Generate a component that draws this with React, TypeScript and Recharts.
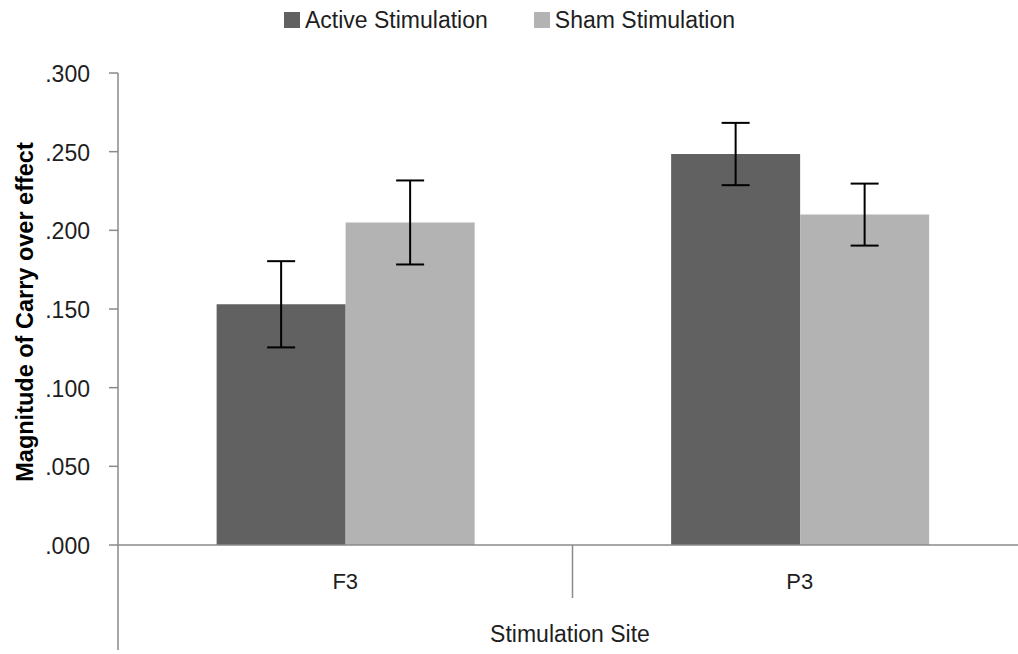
import React from 'react';
import { BarChart, Bar, XAxis, YAxis, ErrorBar, Legend } from 'recharts';

const sites = ['F3', 'P3'];
const activeMeans = [0.153, 0.2485];
const activeErrors = [0.0274, 0.0198];
const shamMeans = [0.205, 0.21];
const shamErrors = [0.0267, 0.0197];
const yTicks = [0, 0.05, 0.1, 0.15, 0.2, 0.25, 0.3];
const seriesNames = ['Active Stimulation', 'Sham Stimulation'];
const seriesColors = ['#616161', '#b3b3b3'];
const yAxisTitle = 'Magnitude of Carry over effect';
const xAxisTitle = 'Stimulation Site';

const data = sites.map((site, i) => ({
  site,
  active: activeMeans[i],
  activeErr: activeErrors[i],
  sham: shamMeans[i],
  shamErr: shamErrors[i],
}));

const FONT = '"Liberation Sans", Arial, sans-serif';
const TEXT = '#1e1e1e';
const AXIS = '#8a8a8a';
const Y_TICK_SIZE = 9;
const Y_TICK_MARGIN = 19;

const fmt = (v: number) => v.toFixed(3).replace(/^0/, '');

const YTick = (props: any) => {
  const { x, y, payload } = props;
  const axisX = x + Y_TICK_SIZE + Y_TICK_MARGIN;
  return (
    <g>
      <text x={x} y={y + 1} textAnchor="end" dominantBaseline="central" fontFamily={FONT} fontSize={23} fill={TEXT}>
        {fmt(payload.value)}
      </text>
      {payload.value === 0 && (
        <line x1={axisX} x2={axisX} y1={y} y2={y + 105} stroke={AXIS} strokeWidth={1.5} />
      )}
    </g>
  );
};

const XTick = (props: any) => {
  const { x, y, payload, index, visibleTicksCount } = props;
  const half = payload.offset ?? 0;
  return (
    <g>
      <text x={x} y={y + 44} textAnchor="middle" fontFamily={FONT} fontSize={22} fill={TEXT}>
        {payload.value}
      </text>
      {index < visibleTicksCount - 1 && (
        <line x1={x + half} x2={x + half} y1={y} y2={y + 53} stroke={AXIS} strokeWidth={1.5} />
      )}
    </g>
  );
};

const YTitle = (props: any) => {
  const vb = props.viewBox || {};
  const cy = (vb.y ?? 73) + (vb.height ?? 472) / 2 + 3;
  const cx = 25;
  return (
    <text
      x={cx}
      y={cy}
      transform={`rotate(-90 ${cx} ${cy})`}
      textAnchor="middle"
      dominantBaseline="central"
      fontFamily={FONT}
      fontWeight="bold"
      fontSize={23.5}
      fill="#000"
    >
      {yAxisTitle}
    </text>
  );
};

const XTitle = (props: any) => {
  const vb = props.viewBox || {};
  const cx = 570;
  const cy = (vb.y ?? 545) + 97;
  return (
    <text x={cx} y={cy} textAnchor="middle" fontFamily={FONT} fontSize={23} fill={TEXT}>
      {xAxisTitle}
    </text>
  );
};

const LegendContent = (props: any) => {
  const items = props.payload || [];
  return (
    <div style={{ height: 40, display: 'flex', alignItems: 'center', paddingLeft: 284, boxSizing: 'border-box' }}>
      {items.map((it: any, i: number) => (
        <div key={i} style={{ display: 'flex', alignItems: 'center', marginLeft: i === 0 ? 0 : 46 }}>
          <div style={{ width: 16, height: 16, background: it.color, marginRight: 5 }} />
          <span style={{ fontFamily: FONT, fontSize: 23, color: TEXT, lineHeight: '24px' }}>{it.value}</span>
        </div>
      ))}
    </div>
  );
};

export default function App() {
  return (
    <div style={{ position: 'absolute', left: 0, top: 0, width: 1018, height: 654, overflow: 'hidden', background: '#fff' }}>
      <BarChart
        width={1027}
        height={654}
        data={data}
        margin={{ top: 33, right: 0, bottom: 9, left: 0 }}
        barCategoryGap="21.7%"
        barGap={0}
      >
        <Legend
          verticalAlign="top"
          align="left"
          content={<LegendContent />}
          wrapperStyle={{ top: 0, left: 0, width: 1018, height: 40 }}
        />
        <XAxis
          dataKey="site"
          height={100}
          tickSize={0}
          tickMargin={0}
          tickLine={false}
          axisLine={{ stroke: AXIS, strokeWidth: 1.5 }}
          tick={<XTick />}
          label={<XTitle />}
          interval={0}
        />
        <YAxis
          width={118}
          domain={[0, 0.3]}
          ticks={yTicks}
          tickSize={Y_TICK_SIZE}
          tickMargin={Y_TICK_MARGIN}
          axisLine={{ stroke: AXIS, strokeWidth: 1.5 }}
          tickLine={{ stroke: AXIS, strokeWidth: 1.5 }}
          tick={<YTick />}
          label={<YTitle />}
          interval={0}
        />
        <Bar dataKey="active" name={seriesNames[0]} fill={seriesColors[0]} isAnimationActive={false}>
          <ErrorBar dataKey="activeErr" width={14} strokeWidth={2} stroke="#000" />
        </Bar>
        <Bar dataKey="sham" name={seriesNames[1]} fill={seriesColors[1]} isAnimationActive={false}>
          <ErrorBar dataKey="shamErr" width={14} strokeWidth={2} stroke="#000" />
        </Bar>
      </BarChart>
    </div>
  );
}
